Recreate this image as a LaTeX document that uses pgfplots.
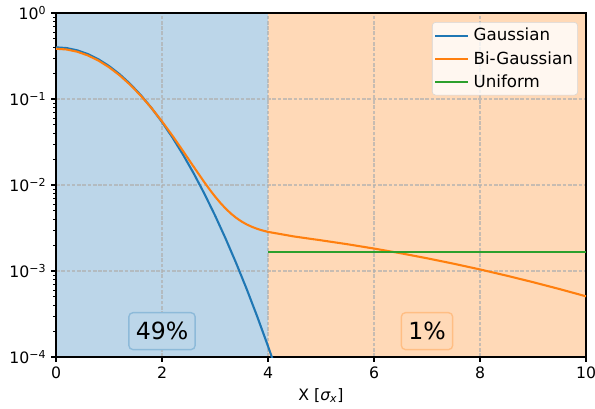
\documentclass[border=0pt]{standalone}
\usepackage{fontspec}
\setmainfont{DejaVu Sans}
\usepackage{pgfplots}
\pgfplotsset{compat=1.18}
\usetikzlibrary{calc}

\definecolor{tabblue}{HTML}{1F77B4}
\definecolor{taborange}{HTML}{FF7F0E}
\definecolor{tabgreen}{HTML}{2CA02C}
\definecolor{blueshade}{RGB}{188,214,233}
\definecolor{orangeshade}{RGB}{255,217,183}
\definecolor{blueedge}{RGB}{141,186,217}
\definecolor{orangeedge}{RGB}{255,190,132}
\definecolor{gridgray}{HTML}{B0B0B0}
\definecolor{legendedge}{HTML}{D6D6D6}

\begin{document}
\begin{tikzpicture}
\begin{axis}[
  set layers,
  scale only axis,
  width=381.6pt, height=247.7pt,
  xmin=0, xmax=10, ymin=1e-4, ymax=1,
  ymode=log,
  xtick={0,2,4,6,8,10},
  ytick={1e-4,1e-3,1e-2,1e-1,1},
  yticklabels={10\textsuperscript{−4},10\textsuperscript{−3},10\textsuperscript{−2},10\textsuperscript{−1},10\textsuperscript{0}},
  minor ytick={2e-4,3e-4,4e-4,5e-4,6e-4,7e-4,8e-4,9e-4,
               2e-3,3e-3,4e-3,5e-3,6e-3,7e-3,8e-3,9e-3,
               2e-2,3e-2,4e-2,5e-2,6e-2,7e-2,8e-2,9e-2,
               2e-1,3e-1,4e-1,5e-1,6e-1,7e-1,8e-1,9e-1},
  tick align=outside,
  tick pos=left,
  major tick length=3.5pt,
  minor tick length=2pt,
  every major tick/.append style={black, line width=0.8pt},
  every minor tick/.append style={black, line width=0.6pt},
  axis line style={line width=0.8pt},
  grid=major,
  major grid style={gridgray, draw opacity=0.7, line width=0.8pt, dash pattern=on 2.6pt off 1.2pt},
  xlabel={X [{\itshape σ}\textsubscript{\itshape x}]},
  xlabel style={font=\fontsize{11.3}{13}\selectfont},
  tick label style={font=\fontsize{11.3}{13}\selectfont},
  /pgf/number format/assume math mode=true,
  legend cell align=left,
  legend image code/.code={\draw[#1, line width=1.5pt] (0pt,0pt) -- (23.8pt,0pt);},
  legend style={at={(1,1)}, anchor=north east, xshift=-5.8pt, yshift=-6.5pt,
    draw=legendedge, rounded corners=2.5pt, fill=white, fill opacity=0.8,
    text opacity=1, font=\fontsize{12}{14}\selectfont,
    inner xsep=1.5pt, inner ysep=2.3pt, row sep=2pt,
    /tikz/every odd column/.append style={column sep=1pt}},
]
% shaded regions
\addplot[on layer=axis background, draw=none, fill=blueshade, forget plot]
  coordinates {(0,1e-4) (4,1e-4) (4,1) (0,1)} -- cycle;
\addplot[on layer=axis background, draw=none, fill=orangeshade, forget plot]
  coordinates {(4,1e-4) (10,1e-4) (10,1) (4,1)} -- cycle;

% Gaussian core
\addplot[tabblue, line width=1.5pt] coordinates {
  (0,0.39894)(0.2,0.39104)(0.4,0.36827)(0.6,0.33322)(0.8,0.28969)
  (1.0,0.24197)(1.2,0.19419)(1.4,0.14973)(1.6,0.11092)(1.8,0.07895)
  (2.0,0.05399)(2.2,0.03547)(2.4,0.02239)(2.6,0.01358)(2.8,0.007915)
  (3.0,0.004432)(3.2,0.002384)(3.4,0.001232)(3.6,0.000612)(3.8,0.000292)
  (4.0,0.0001338)(4.1,0.0000893)};
\addlegendentry{Gaussian}

% Bi-Gaussian (core plus wide tail)
\addplot[taborange, line width=1.5pt] coordinates {
  (0,0.38394)(0.2,0.37641)(0.4,0.35470)(0.6,0.32128)(0.8,0.27977)
  (1.0,0.23428)(1.2,0.18870)(1.4,0.14630)(1.6,0.10927)(1.8,0.07876)
  (2.0,0.05491)(2.2,0.03721)(2.4,0.02468)(2.6,0.016218)(2.8,0.010749)
  (2.9,0.008842)(3.0,0.007356)(3.1,0.006207)(3.2,0.005328)(3.3,0.004658)
  (3.4,0.004150)(3.5,0.003767)(3.6,0.003477)(3.7,0.003257)(3.8,0.003087)
  (3.9,0.002956)(4.0,0.002851)(4.5,0.002516)(5.0,0.002276)(5.5,0.002048)
  (6.0,0.001825)(6.5,0.001611)(7.0,0.001407)(7.5,0.001217)(8.0,0.001043)
  (8.5,0.000884)(9.0,0.000742)(9.5,0.000617)(10.0,0.000508)};
\addlegendentry{Bi-Gaussian}

% Uniform tail
\addplot[tabgreen, line width=1.5pt] coordinates {(4,0.0016667)(10,0.0016667)};
\addlegendentry{Uniform}

\node[fill=blueshade, draw=blueedge, line width=1pt, rounded corners=3pt,
  font=\fontsize{17}{20}\selectfont, inner xsep=5pt, inner ysep=0pt,
  minimum height=26.6pt] at (axis cs:2,2e-4) {49\%};
\node[fill=orangeshade, draw=orangeedge, line width=1pt, rounded corners=3pt,
  font=\fontsize{17}{20}\selectfont, inner xsep=5pt, inner ysep=0pt,
  minimum height=26.6pt] at (axis cs:7,2e-4) {1\%};

\coordinate (sw) at (rel axis cs:0,0);
\coordinate (ne) at (rel axis cs:1,1);
\end{axis}
\pgfresetboundingbox
\path[use as bounding box] ($(sw)+(-40.32pt,-36.72pt)$) rectangle ($(ne)+(6.48pt,9.36pt)$);
\end{tikzpicture}
\end{document}
